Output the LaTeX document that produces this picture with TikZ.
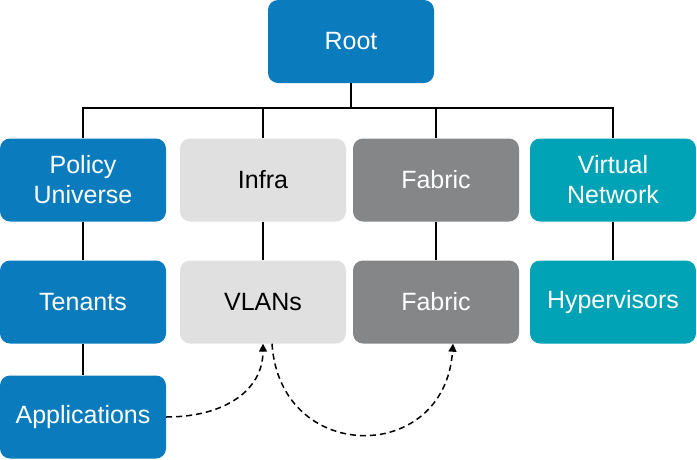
\documentclass[tikz,border=0pt]{standalone}
\usepackage{fontspec}
\setmainfont{Liberation Sans}
\usetikzlibrary{arrows.meta}
\def\boxw{166}
\def\boxh{83}
\definecolor{aciblue}{HTML}{0A7BBD}
\definecolor{acilight}{HTML}{E0E0E0}
\definecolor{acidark}{HTML}{858688}
\definecolor{aciteal}{HTML}{00A2B5}
\tikzset{
  mobox/.style={rounded corners=10pt, minimum width=\boxw pt, minimum height=\boxh pt,
    inner sep=0pt, align=center, font=\fontsize{25}{30}\selectfont},
  blue box/.style={mobox, fill=aciblue, text=white},
  light box/.style={mobox, fill=acilight, text=black},
  dark box/.style={mobox, fill=acidark, text=white},
  teal box/.style={mobox, fill=aciteal, text=white},
  tree/.style={line width=1.5pt, black},
  relation/.style={line width=1.5pt, dashed, dash pattern=on 6pt off 4pt, -{Triangle[length=8pt,width=8pt]}}
}

\begin{document}
\begin{tikzpicture}[x=1pt, y=-1pt]
\useasboundingbox (0,0) rectangle (697,459);
% tree of managed objects
\node[blue box]  (root)     at (351,41.5)  {Root};
\node[blue box]  (policy)   at (83,180)    {Policy\\Universe};
\node[light box] (infra)    at (263,180)   {Infra};
\node[dark box]  (fabric)   at (436,180)   {Fabric};
\node[teal box]  (virtual)  at (613,180)   {Virtual\\Network};
\node[blue box]  (tenants)  at (83,302)    {Tenants};
\node[light box] (vlans)    at (263,302)   {VLANs};
\node[dark box]  (fabricb)  at (436,302)   {Fabric};
\node[teal box]  (hyper)    at (613,302)   {Hypervisors};
\node[blue box]  (apps)     at (83,417)    {Applications};
\coordinate (bus) at (351,108);
\draw[tree] (root.south) -- (bus);
\draw[tree] (policy.north) |- (bus) -| (virtual.north);
\draw[tree] (infra.north) -- (infra.north |- bus);
\draw[tree] (fabric.north) -- (fabric.north |- bus);
\draw[tree] (policy.south) -- (tenants.north);
\draw[tree] (tenants.south) -- (apps.north);
\draw[tree] (infra.south) -- (vlans.north);
\draw[tree] (fabric.south) -- (fabricb.north);
\draw[tree] (virtual.south) -- (hyper.north);
% relations
\coordinate (vlanout) at ([xshift=9pt]vlans.south);
\coordinate (fabin) at ([xshift=17pt]fabricb.south);
\draw[relation] (apps.east) .. controls (225,417) and (263,390) .. (vlans.south);
\draw[relation] (vlanout) .. controls (280,465) and (445,465) .. (fabin);
\end{tikzpicture}
\end{document}
